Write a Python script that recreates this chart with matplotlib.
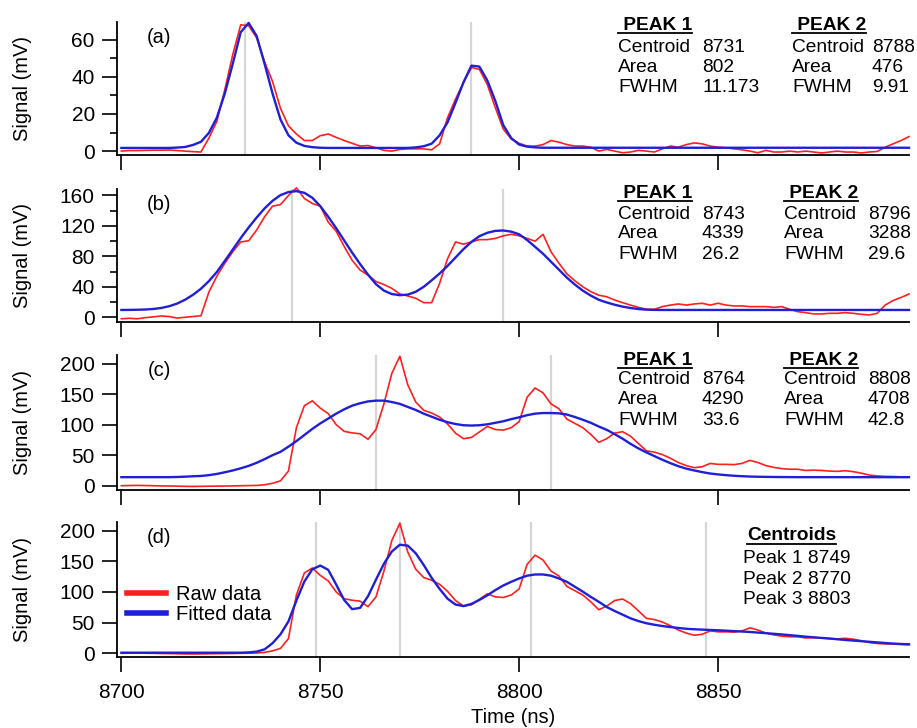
import matplotlib
matplotlib.use("Agg")
import numpy as np
import matplotlib.pyplot as plt
from matplotlib.lines import Line2D
from matplotlib.ticker import MultipleLocator

# sampling grid of the digitiser (2 ns)
time_ns = np.arange(8700, 8900, 2)

# (a) raw / fitted signal, mV
raw_a = [0, 0.3, 0.3, 0.4, 0.5, 0.5, 0.6, 0.3, 0, -0.3,
         -0.5, 7, 16, 33, 52, 68, 67.5, 61, 48, 37.5,
         23, 13.6, 9.2, 5.7, 5.7, 8.3, 9.2, 7.4, 5.7, 4.2,
         2.7, 3, 1.8, 0.4, 0, 0.9, 1.2, 1.2, 1.2, 0.7,
         3.9, 18, 28, 37, 45, 44, 35.8, 23.4, 11.9, 6.5,
         4.2, 2.7, 2.7, 3.5, 5.7, 4.8, 3.5, 2.7, 2.7, 2.1,
         0, 0.9, 0, -0.9, -0.5, 0.4, 0, -0.5, 1.2, 2.7,
         2.1, 3.5, 4.4, 3.9, 2.7, 2.1, 1.8, 1.2, 0.7, 0,
         -0.9, 0.4, -0.5, -0.5, 0, -0.5, 0, -0.5, -1, -0.5,
         0, -0.5, -0.5, -1, -0.5, -0.2, 2.1, 3.9, 5.7, 7.8]
fit_a = [1.7, 1.7, 1.7, 1.7, 1.7, 1.7, 1.7, 1.9, 2.2, 3.3,
         5, 9.8, 18, 31, 47, 64, 69, 62, 47, 31,
         17, 8.5, 4.5, 2.8, 2.1, 1.8, 1.7, 1.7, 1.7, 1.7,
         1.7, 1.7, 1.7, 1.7, 1.7, 1.7, 1.7, 2.0, 2.6, 4.0,
         8.5, 15.5, 26, 37, 46, 45.5, 38, 27, 14, 7,
         3.5, 2.4, 2.0, 1.8, 1.8, 1.8, 1.8, 1.8, 1.8, 1.8,
         1.8, 1.8, 1.8, 1.8, 1.8, 1.8, 1.8, 1.8, 1.8, 1.8,
         1.8, 1.8, 1.8, 1.8, 1.8, 1.8, 1.8, 1.8, 1.8, 1.8,
         1.8, 1.8, 1.8, 1.8, 1.8, 1.8, 1.8, 1.8, 1.8, 1.8,
         1.8, 1.8, 1.8, 1.8, 1.8, 1.8, 1.8, 1.8, 1.8, 1.8]

# (b)
raw_b = [-2, -1.3, -2, -0.5, 0.5, 1.7, 1, -1, 0, 1,
         2, 33, 54, 71, 86, 99, 100.5, 114.5, 132, 146,
         148, 160, 170, 156, 149.5, 146, 125, 113, 93, 75,
         62, 55.5, 47, 43, 38, 30.6, 28, 25, 19.2, 19.2,
         44.6, 77, 99, 96, 99, 102, 102, 103.6, 107, 109,
         107, 103.6, 100, 109, 86, 71, 57, 48, 40, 33.7,
         29, 27, 22.7, 19.2, 16, 13, 10.5, 10.5, 14, 16,
         17.5, 16, 17.5, 18.4, 16, 18.4, 16, 14.9, 14.9, 14,
         14, 14, 13, 14, 10.5, 7.4, 6.1, 4.4, 4.4, 5.2,
         5.2, 6.1, 5.2, 3.9, 3, 5.2, 16, 22, 26, 30.6]
fit_b = [9.6, 9.7, 9.9, 10.2, 10.9, 12.2, 14.5, 18, 23, 29.5,
         37.5, 47.5, 59.5, 74, 89, 104, 118, 131, 143, 153,
         160.5, 164.5, 165.7, 163.5, 157, 146, 132, 117, 101, 85,
         70, 56, 43.5, 35, 30.5, 29, 29.8, 33.5, 40, 48.5,
         57.5, 67.5, 78.5, 89.5, 99, 106.5, 111, 113.5, 114, 112.5,
         109, 101.5, 92.5, 83.5, 73, 62.5, 52, 43, 35, 28.5,
         23, 19.5, 16.5, 14, 12.2, 10.8, 10, 9.7, 9.6, 9.6,
         9.6, 9.6, 9.6, 9.6, 9.6, 9.6, 9.6, 9.6, 9.6, 9.6,
         9.6, 9.6, 9.6, 9.6, 9.6, 9.6, 9.6, 9.6, 9.6, 9.6,
         9.6, 9.6, 9.6, 9.6, 9.6, 9.6, 9.6, 9.6, 9.6, 9.6]

# (c) and (d) share the same raw trace
raw_cd = [0, 0.3, 0.5, 0.3, 0, -0.3, -0.5, -0.7, -1, -1.2,
          -1, -0.8, -0.6, -0.5, -0.3, 0, 0.2, 0.5, 1.5, 4,
          8, 24, 95, 131, 139, 127, 118, 100, 89, 86.5,
          85, 76, 92, 134, 184, 212, 165, 137, 123.5, 119,
          112.5, 101, 86, 77, 79, 88, 97, 92, 91, 95,
          105, 145, 160, 152, 134, 126, 109, 102, 95, 84,
          71, 77, 86, 88.5, 81, 69, 57, 55, 51, 45,
          38, 33, 29.5, 31, 36.5, 35, 35, 34.5, 36.5, 41.5,
          38, 33, 30, 28, 27, 27, 25, 25.5, 25, 24,
          23.5, 24.5, 23, 20.5, 17.5, 16, 15.3, 15, 14.5, 14]
fit_c = [14, 14, 14, 14, 14, 14, 14, 14.3, 14.8, 15.5,
         16, 17.3, 19.3, 22, 25, 28.5, 32.5, 37.5, 43.5, 50,
         55.5, 64, 73, 83, 93, 102, 110, 118, 125, 131,
         135, 138, 139.3, 139.3, 137, 134, 129, 124, 118, 113,
         108, 104, 101, 99, 98.5, 99, 100.5, 103, 105.5, 109,
         112, 115.5, 118, 119, 119, 118.5, 116.5, 112.5, 108, 103,
         97, 91.5, 84.5, 77, 68.5, 61, 54.5, 48.5, 42.5, 37,
         32, 28, 25, 22.3, 20, 18.5, 17.3, 16.3, 15.6, 15,
         14.7, 14.5, 14.3, 14.2, 14.1, 14, 14, 14, 14, 14,
         14, 14, 14, 14, 14, 14, 14, 14, 14, 14]
fit_d = [1, 1, 1, 1, 1, 1, 1, 1, 1, 1,
         1, 1, 1, 1, 1, 1, 1.5, 2.8, 6.5, 16.5,
         31, 52, 86, 117, 137, 143, 136, 112, 87, 72,
         74, 93, 120, 146, 166, 177, 175.5, 163, 144, 123,
         105, 89, 79.5, 77, 80.5, 87, 94.5, 103, 110.5, 116.5,
         122, 126.5, 128.5, 128.5, 126.5, 122, 116.5, 108.5, 100.5, 92,
         84, 75.5, 69, 63, 57, 52.5, 49, 46.5, 44.5, 42.8,
         41.3, 40, 39.2, 38.6, 38.1, 37.5, 36.9, 36.2, 35.5, 34.8,
         33.8, 32.9, 31.8, 30.8, 29.6, 28.4, 27.2, 26.1, 25.1, 24.1,
         22.9, 21.8, 20.8, 19.8, 18.8, 17.8, 16.8, 15.9, 15.2, 14.7]

# centroid markers
centroids_a = [8731, 8788]
centroids_b = [8743, 8796]
centroids_c = [8764, 8808]
centroids_d = [8749, 8770, 8803, 8847]

# fit results tables
stat_names = ["Centroid", "Area", "FWHM"]
peaks_a = [["8731", "802", "11.173"], ["8788", "476", "9.91"]]
peaks_b = [["8743", "4339", "26.2"], ["8796", "3288", "29.6"]]
peaks_c = [["8764", "4290", "33.6"], ["8808", "4708", "42.8"]]
centroid_rows_d = ["Peak 1 8749", "Peak 2 8770", "Peak 3 8803"]

panel_tags = ["(a)", "(b)", "(c)", "(d)"]
x_ticks = [8700, 8750, 8800, 8850]

RED = "#ff1f1f"
BLUE = "#1f1fd8"
GREY = "#d6d6d6"

plt.rcParams.update({'font.family': 'Liberation Sans', 'font.size': 14})

W, H = 917, 728
fig = plt.figure(figsize=(W / 100, H / 100), dpi=100)

# axes boxes in pixels (top, bottom)
boxes = [(22, 155), (189, 322), (355, 490), (522, 657)]
ylims = [(-2.1, 69.5), (-6.2, 168.5), (-7, 214), (-6, 214)]
majors = [20, 40, 50, 50]
minors = [10, 20, None, None]
raws = [raw_a, raw_b, raw_cd, raw_cd]
fits = [fit_a, fit_b, fit_c, fit_d]
marks = [centroids_a, centroids_b, centroids_c, centroids_d]

axes = []
for i, (top, bot) in enumerate(boxes):
    ax = fig.add_axes([117 / W, 1 - bot / H, 792 / W, (bot - top) / H])
    axes.append(ax)
    for c in marks[i]:
        ax.axvline(c, color=GREY, lw=1.6, zorder=1)
    ax.plot(time_ns, raws[i], color=RED, lw=1.2, zorder=2, clip_on=False, label="Raw data")
    ax.plot(time_ns, fits[i], color=BLUE, lw=1.7, zorder=3, clip_on=False, label="Fitted data")

    ax.set_xlim(8698.9, 8898)
    ax.set_ylim(*ylims[i])
    ax.set_xticks(x_ticks)
    ax.yaxis.set_major_locator(MultipleLocator(majors[i]))
    if minors[i]:
        ax.yaxis.set_minor_locator(MultipleLocator(minors[i]))
    ax.spines['top'].set_visible(False)
    ax.spines['right'].set_visible(False)
    for s in ['left', 'bottom']:
        ax.spines[s].set_linewidth(1.3)
    ax.tick_params(axis='both', which='major', direction='out', length=11, width=1.2, labelsize=15)
    ax.tick_params(axis='y', which='minor', direction='out', length=5, width=1.2)
    ax.tick_params(axis='y', which='major', pad=5)
    ax.tick_params(axis='x', which='major', pad=8, labelbottom=(i == 3))
    ax.set_ylabel("Signal (mV)", fontsize=14.5)
    ax.yaxis.set_label_coords(-0.107, 0.5)
    ax.text(0.053, 0.885, panel_tags[i], transform=ax.transAxes, ha='center', va='center', fontsize=14.5)

axes[3].set_xlabel("Time (ns)", fontsize=14.5)
axes[3].xaxis.set_label_coords(0.5, -0.375)

leg = axes[3].legend(loc='center left', bbox_to_anchor=(0.012, 0.39), frameon=False,
                     fontsize=14.5, handlelength=1.95, handletextpad=0.5,
                     labelspacing=0.05, borderpad=0, borderaxespad=0)
for ln in leg.get_lines():
    ln.set_linewidth(4)


def ptext(x, y, s, **kw):
    return fig.text(x / W, 1 - y / H, s, va='baseline', fontsize=13.8, **kw)


headers = []
# (peak values, header baseline, row baselines, columns: label1, value1, label2, value2)
tables = [
    (peaks_a, 30, [51.5, 72, 92.5], (618, 702, 792, 872)),
    (peaks_b, 198, [218.5, 238.5, 259], (618, 702, 784, 868)),
    (peaks_c, 365, [384.5, 404.5, 425], (618, 702, 784, 868)),
]
for peaks, hy, rows, cols in tables:
    for k, vals in enumerate(peaks):
        lx, vx = cols[2 * k], cols[2 * k + 1]
        headers.append(ptext(lx, hy, " PEAK %d" % (k + 1), fontweight='bold'))
        for name, v, ry in zip(stat_names, vals, rows):
            ptext(lx, ry, name)
            ptext(vx, ry, v)

headers.append(ptext(747, 540.5, "Centroids", fontweight='bold'))
for s, ry in zip(centroid_rows_d, [563, 584, 604.5]):
    ptext(743, ry, s)

# underline the bold headers
fig.canvas.draw()
for t in headers:
    bb = t.get_window_extent().transformed(fig.transFigure.inverted())
    yl = t.get_position()[1] - 3 / H
    fig.add_artist(Line2D([bb.x0, bb.x1], [yl, yl], transform=fig.transFigure,
                          color='black', lw=1.3))

fig.savefig("out.png", dpi=100)
